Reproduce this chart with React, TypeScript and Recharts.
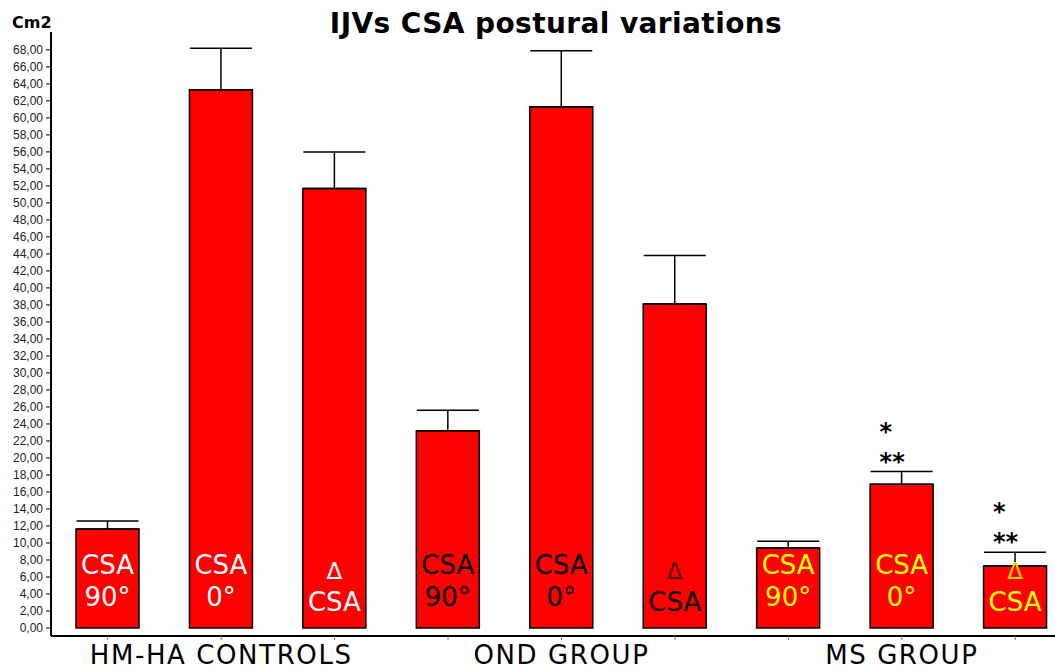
import React from 'react'
import { BarChart, Bar, XAxis, YAxis, ErrorBar, LabelList } from 'recharts'

// IJV cross-sectional area (cm2), by group and posture
const categories = [
  'HM-HA CSA 90°', 'HM-HA CSA 0°', 'HM-HA ΔCSA',
  'OND CSA 90°', 'OND CSA 0°', 'OND ΔCSA',
  'MS CSA 90°', 'MS CSA 0°', 'MS ΔCSA',
]
const values = [11.65, 63.3, 51.7, 23.2, 61.3, 38.1, 9.4, 16.9, 7.3]
const errors = [0.94, 4.9, 4.3, 2.4, 6.6, 5.7, 0.8, 1.5, 1.6]
const topLines = ['CSA', 'CSA', 'Δ', 'CSA', 'CSA', 'Δ', 'CSA', 'CSA', 'Δ']
const bottomLines = ['90°', '0°', 'CSA', '90°', '0°', 'CSA', '90°', '0°', 'CSA']
const textColors = ['#ffffff', '#ffffff', '#ffffff', '#000000', '#000000', '#000000', '#ffff00', '#ffff00', '#ffff00']
const deltaColors = ['#ffffff', '#ffffff', '#ffffff', '#5a0000', '#5a0000', '#5a0000', '#ffd400', '#ffd400', '#ffd400']
const groupLabels = ['', 'HM-HA CONTROLS', '', '', 'OND GROUP', '', '', 'MS GROUP', '']
const sigOne = ['', '', '', '', '', '', '', '*', '*']
const sigTwo = ['', '', '', '', '', '', '', '**', '**']
const yTicks = [
  0, 2, 4, 6, 8, 10, 12, 14, 16, 18, 20, 22, 24, 26, 28, 30, 32, 34,
  36, 38, 40, 42, 44, 46, 48, 50, 52, 54, 56, 58, 60, 62, 64, 66, 68,
]

const data = categories.map((name, i) => ({
  name,
  value: values[i],
  err: [0, errors[i]],
}))

const comic = '"Comic Sans MS", "DejaVu Sans", sans-serif'

const BarText = (props: any) => {
  const { x, y, width, height, index } = props
  const cx = Number(x) + Number(width) / 2
  const bottom = Number(y) + Number(height)
  const isDelta = topLines[index] === 'Δ'
  const perUnit = Number(height) / values[index]
  const errTop = Number(y) - errors[index] * perUnit
  return (
    <g>
      <text
        x={cx}
        y={isDelta ? bottom - 57 : bottom - 63}
        textAnchor="middle"
        dominantBaseline="central"
        fontFamily={comic}
        fontSize={isDelta ? 23 : 26}
        fill={isDelta ? deltaColors[index] : textColors[index]}
      >
        {topLines[index]}
      </text>
      <text
        x={cx}
        y={isDelta ? bottom - 26 : bottom - 31}
        textAnchor="middle"
        dominantBaseline="central"
        fontFamily={comic}
        fontSize={26}
        fill={textColors[index]}
      >
        {bottomLines[index]}
      </text>
      {sigOne[index] && (
        <text x={cx - 22} y={errTop - 46 + 14} fontFamily={comic} fontWeight="bold" fontSize={24} fill="#000">
          {sigOne[index]}
        </text>
      )}
      {sigTwo[index] && (
        <text x={cx - 22} y={errTop - 16 + 14} fontFamily={comic} fontWeight="bold" fontSize={24} fill="#000">
          {sigTwo[index]}
        </text>
      )}
    </g>
  )
}

const GroupTick = (props: any) => {
  const { x, y, payload } = props
  const label = groupLabels[payload.index]
  return (
    <g>
      {label && (
        <text x={x} y={y + 22} textAnchor="middle" fontFamily={comic} fontSize={26} letterSpacing={1.6} fill="#000">
          {label}
        </text>
      )}
    </g>
  )
}

export default function App() {
  return (
    <div style={{ position: 'absolute', left: 0, top: 0, width: 1055, height: 671, overflow: 'hidden', background: '#fff' }}>
      <div style={{ position: 'absolute', left: 12, top: 13, fontFamily: comic, fontWeight: 'bold', fontSize: 16, lineHeight: '20px' }}>
        Cm2
      </div>
      <div
        style={{
          position: 'absolute',
          left: 0,
          top: 7,
          width: 1112,
          textAlign: 'center',
          fontFamily: comic,
          fontWeight: 'bold',
          fontSize: 28,
          letterSpacing: 0.4,
          lineHeight: '34px',
        }}
      >
        IJVs CSA postural variations
      </div>
      <BarChart width={1075} height={671} data={data} margin={{ top: 32, right: 3, left: 0, bottom: 0 }}>
        <XAxis
          dataKey="name"
          height={35}
          tick={<GroupTick />}
          tickSize={4}
          tickLine={{ stroke: '#777' }}
          axisLine={{ stroke: '#000', strokeWidth: 2 }}
          interval={0}
        />
        <YAxis
          width={51}
          domain={[-0.94, 70.1]}
          ticks={yTicks}
          interval={0}
          tickSize={5}
          tickMargin={3}
          tickFormatter={(v: number) => v.toFixed(2).replace('.', ',')}
          tick={{ fontSize: 12, fill: '#222', fontFamily: '"Liberation Sans", Arial, sans-serif' }}
          tickLine={{ stroke: '#000' }}
          axisLine={{ stroke: '#000', strokeWidth: 2 }}
        />
        <Bar dataKey="value" fill="#ff0000" stroke="#000" strokeWidth={1.5} barSize={63} isAnimationActive={false}>
          <ErrorBar dataKey="err" direction="y" width={31} stroke="#000" strokeWidth={1.5} />
          <LabelList dataKey="value" content={<BarText />} />
        </Bar>
      </BarChart>
    </div>
  )
}
